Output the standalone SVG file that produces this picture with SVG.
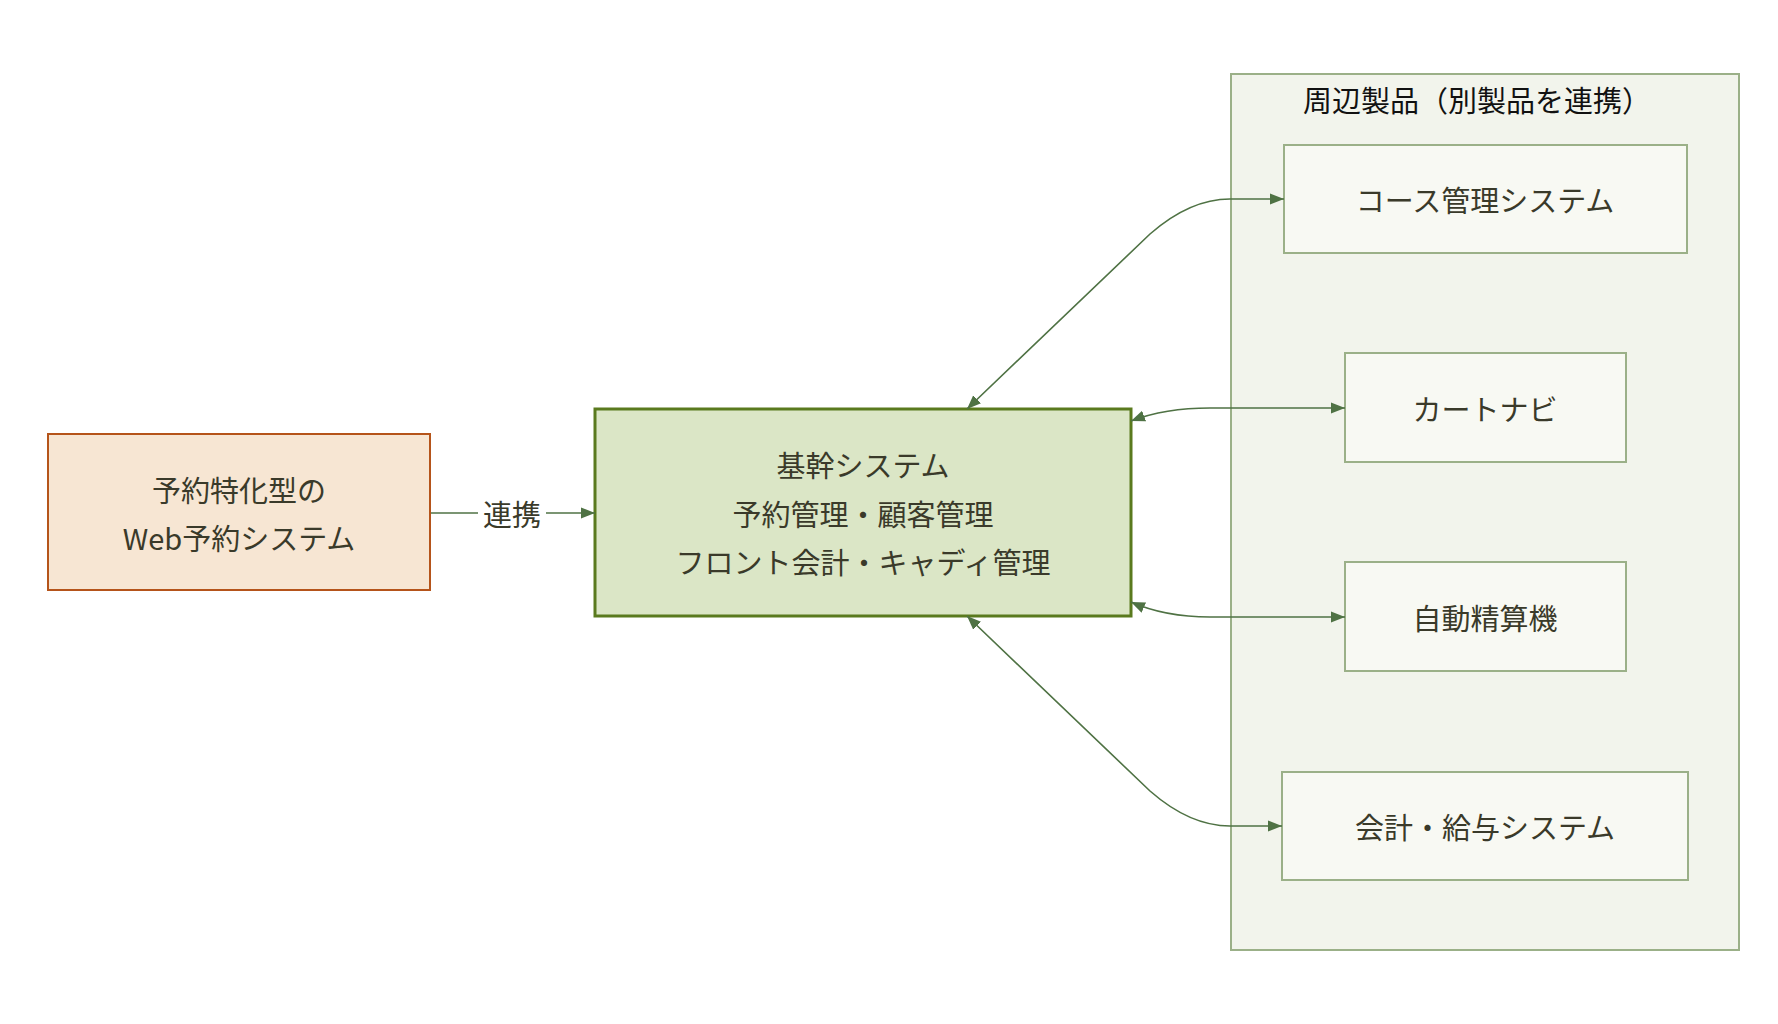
<svg xmlns="http://www.w3.org/2000/svg" width="1778" height="1024" viewBox="0 0 1778 1024">
<style>
text{font-family:"Noto Sans CJK JP","Liberation Sans",sans-serif;font-size:29px;fill:#3a3a2a;text-anchor:middle;dominant-baseline:central}
.sub{fill:#f8f9f3;stroke:#9bb088;stroke-width:2}
.c{fill:none;stroke:#4f7244;stroke-width:1.6}
</style>
<defs><marker id="a" viewBox="0 0 10 10" refX="10" refY="5" markerWidth="9" markerHeight="9" orient="auto-start-reverse" markerUnits="userSpaceOnUse"><path d="M0,0L10,5L0,10z" fill="#4f7244"/></marker>
<marker id="b" viewBox="0 0 10 10" refX="10" refY="5" markerWidth="14" markerHeight="14" orient="auto-start-reverse" markerUnits="userSpaceOnUse"><path d="M0,1L10,5L0,9z" fill="#4f7244"/></marker></defs>
<rect width="1778" height="1024" fill="#fff"/>
<g id="group"><rect x="1231" y="74" width="508" height="876" fill="#f2f4ec" stroke="#9bb088" stroke-width="2"/><text x="1477" y="99" style="fill:#111">周辺製品（別製品を連携）</text></g>
<g id="course"><rect class="sub" x="1284" y="145" width="403" height="108"/><text x="1485" y="199">コース管理システム</text></g>
<g id="cart"><rect class="sub" x="1345" y="353" width="281" height="109"/><text x="1485" y="408">カートナビ</text></g>
<g id="jido"><rect class="sub" x="1345" y="562" width="281" height="109"/><text x="1485" y="617">自動精算機</text></g>
<g id="kaikei"><rect class="sub" x="1282" y="772" width="406" height="108"/><text x="1485" y="826">会計・給与システム</text></g>
<g id="main"><rect x="595" y="409" width="536" height="207" fill="#dbe6c6" stroke="#5a7a1e" stroke-width="3"/><text x="863" y="464">基幹システム</text><text x="863" y="513">予約管理・顧客管理</text><text x="863" y="561">フロント会計・キャディ管理</text></g>
<g id="web"><rect x="48" y="434" width="382" height="156" fill="#f7e6d3" stroke="#b5541a" stroke-width="2"/><text x="239" y="489">予約特化型の</text><text x="239" y="537">Web予約システム</text></g>
<g id="connectors">
<path class="c" d="M431,513H595" marker-end="url(#b)"/>
<rect x="478" y="496" width="68" height="34" fill="#fff"/><text x="512" y="513">連携</text>
<path class="c" d="M967,409L1150,234Q1190,199 1230,199H1284" marker-start="url(#b)" marker-end="url(#b)"/>
<path class="c" d="M1131,421Q1165,408 1210,408H1345" marker-start="url(#b)" marker-end="url(#b)"/>
<path class="c" d="M1131,602Q1165,617 1210,617H1345" marker-start="url(#b)" marker-end="url(#b)"/>
<path class="c" d="M967,616L1150,791Q1190,826 1230,826H1282" marker-start="url(#b)" marker-end="url(#b)"/>
</g>
</svg>
